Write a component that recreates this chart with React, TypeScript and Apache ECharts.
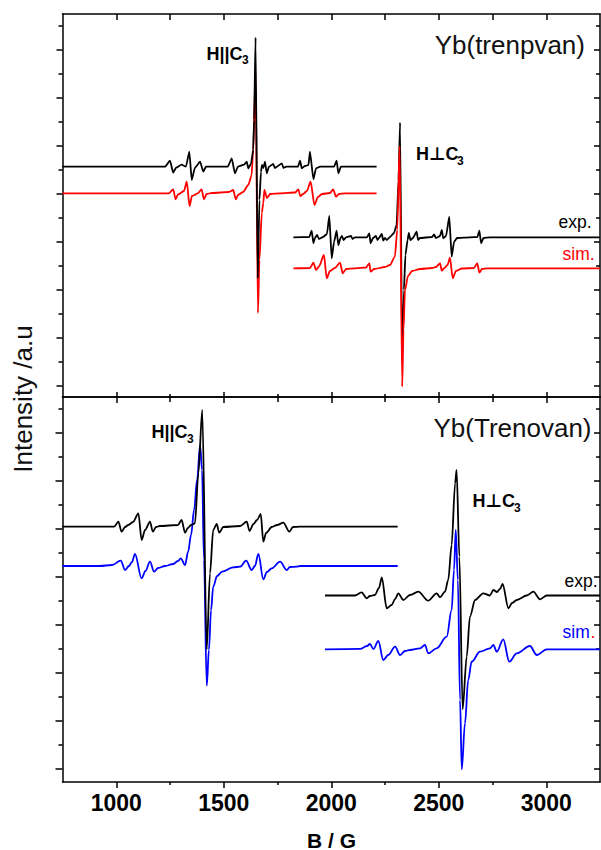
import React, { useEffect, useRef } from "react";
import * as echarts from "echarts";

// ---------- axes ----------
const FIELD_MIN = 750;
const FIELD_MAX = 3250;
const X_TICK_LABELS = [1000, 1500, 2000, 2500, 3000];
const X_MINOR = [1250, 1750, 2250, 2750];
const Y_MAJOR = [0, 48, 96, 144, 192, 240, 288, 336];
const Y_MINOR = [24, 72, 120, 168, 216, 264, 312, 360];
const TOP_RANGE = [-11, 372];
const BOT_RANGE = [-13, 372];

// ---------- vertical offsets of the stacked spectra (a.u.) ----------
const OFF_TOP_EXP_PAR = 219.3;
const OFF_TOP_SIM_PAR = 192.7;
const OFF_TOP_EXP_PERP = 148.7;
const OFF_TOP_SIM_PERP = 117.7;
const OFF_BOT_EXP_PAR = 242.3;
const OFF_BOT_SIM_PAR = 203;
const OFF_BOT_EXP_PERP = 173.5;
const OFF_BOT_SIM_PERP = 119.7;

// ---------- spectra: [B (G), intensity relative to baseline (a.u.)] ----------
// Yb(trenpvan)
const TOP_EXP_PAR: [number, number][] = [
  [750, 0], [1227, 0], [1250, 6], [1265, -6], [1278, -1], [1304, 2], [1324, 0], [1340, 15], [1351, -13.3],
  [1366, -1], [1390, 5], [1405, -5], [1417, 0], [1519, 0], [1537, 8.4], [1552, -6.6], [1566, 0], [1594, 2],
  [1607, 5], [1614, -1.6], [1627, 3], [1637, 17], [1641, 46.7], [1648, 129.2], [1658, -111.6], [1666, -33.3],
  [1673, -5.3], [1678, 1.7], [1684, -1.3], [1692, 5], [1700, -6.6], [1710, 0], [1730, 2.7], [1738, -1.3],
  [1770, 3.4], [1778, -1.3], [1790, 0], [1845, 0], [1855, 6], [1863, -1.6], [1878, 0.7], [1894, 1.7],
  [1901, 15], [1917, -12.6], [1929, -1.6], [1948, 0], [2013, 0], [2025, 6], [2033, -6.6], [2045, 0], [2211, 0],
];
const TOP_SIM_PAR: [number, number][] = [
  [750, 0], [1245, 0], [1265, 4], [1276, -6], [1287, -1.2], [1315, 2.3], [1328, 11.6], [1341, -12.7],
  [1352, -2.7], [1380, 0], [1397, 4], [1408, -6], [1420, -0.7], [1445, 0.3], [1524, 1.3], [1544, 3.3],
  [1556, -6], [1566, -1.7], [1590, 1.3], [1614, 8.3], [1629, 17.3], [1637, 43.3], [1648, 120], [1659, -119.7],
  [1666, -66.7], [1677, -19.7], [1684, -9.7], [1689, 3.3], [1701, -4.7], [1716, -0.7], [1762, 0], [1832, 0.8],
  [1847, 4], [1856, -2.7], [1869, -0.7], [1887, 2.3], [1904, 11.6], [1922, -11.7], [1938, -3.7], [1957, -0.7],
  [1994, 0.3], [2009, 4], [2022, -3.4], [2036, -0.7], [2064, 0], [2211, 0],
];
const TOP_EXP_PERP: [number, number][] = [
  [1824, 0], [1898, 0.3], [1909, 6.6], [1917, -6], [1924, -0.7], [1934, 2.3], [1943, -1.7], [1962, 0.3],
  [1980, 3.3], [1991, 21.3], [2002, -21], [2013, -4.7], [2025, 6.6], [2033, -7.7], [2043, -0.7], [2050, 1.3],
  [2057, -2.7], [2069, 0], [2092, 1.3], [2099, -1.7], [2110, 0], [2166, 0], [2177, 4], [2183, -6], [2194, -0.7],
  [2208, 1.3], [2215, -2.7], [2222, -0.7], [2235, 3.3], [2242, -3.2], [2250, -0.7], [2259, -2.7], [2273, 0.3],
  [2292, 4.3], [2304, 12.3], [2313, 57.3], [2320, 114.6], [2330, -124.4], [2338, -52.7], [2345, -17.7],
  [2355, -2.7], [2361, 4.3], [2368, -2.7], [2380, -0.7], [2397, 5.6], [2404, -2.7], [2413, -0.7], [2469, 0.3],
  [2478, 2.8], [2487, -0.7], [2506, 1.3], [2514, 7.3], [2521, -1], [2534, 1.3], [2549, 20.6], [2560, -19.4],
  [2571, -4.7], [2585, -0.7], [2645, 0], [2680, 0.3], [2689, 6.6], [2697, -6], [2708, -0.7], [2738, 0], [3250, 0],
];
const TOP_SIM_PERP: [number, number][] = [
  [1824, 0], [1901, 0.3], [1917, 5.6], [1929, -1.7], [1943, 1.8], [1966, 13.3], [1979, -10], [1994, -2.7],
  [2017, 0.3], [2041, 5.6], [2053, -5], [2069, -0.7], [2110, 0], [2162, 0.8], [2177, 5], [2183, -3.4],
  [2199, -0.7], [2250, 1.3], [2273, 3.3], [2296, 11.6], [2307, 38.3], [2318, 122.3], [2330, -118.4],
  [2336, -61.7], [2343, -21.7], [2357, -7.7], [2376, -2.7], [2413, -0.7], [2469, 0.3], [2487, 1.3], [2506, 5],
  [2514, -2.4], [2524, -0.2], [2541, 3.3], [2552, 10.6], [2565, -10], [2580, -2.7], [2608, -0.2], [2664, 0.3],
  [2679, 5], [2689, -4.4], [2701, -0.7], [2729, 0], [3250, 0],
];
// Yb(Trenovan)
const BOT_EXP_PAR: [number, number][] = [
  [750, 0], [990, 0], [1010, 5], [1025, -5], [1041, -0.3], [1056, 1.7], [1078, 4.7], [1103, 13.4], [1118, -13.3],
  [1134, -3.3], [1157, 5], [1170, -5], [1185, -0.3], [1203, 0.7], [1287, 1.7], [1304, 6.7], [1320, -6],
  [1333, -1.3], [1348, 1.7], [1366, 3.4], [1382, 53.4], [1400, 116.7], [1421, -122.6], [1436, -46.6],
  [1451, -3.3], [1467, 2.7], [1479, -6], [1498, -0.3], [1576, 0.7], [1607, 5], [1620, -4.3], [1638, 2.7],
  [1655, 6.7], [1672, 12.7], [1684, -15], [1697, -6.3], [1723, -0.3], [1748, 1.7], [1777, 4], [1805, -5],
  [1822, -0.3], [1855, 0], [2309, 0],
];
const BOT_SIM_PAR: [number, number][] = [
  [750, 0], [924, 0], [980, 1], [1021, 5.3], [1041, -4], [1059, 0], [1073, 4], [1087, 12], [1118, -12.3],
  [1136, -5], [1157, 4.3], [1176, -5.7], [1195, -2], [1227, 0], [1265, 2], [1287, 5], [1300, 7.7], [1320, 1],
  [1334, 14], [1348, 31], [1362, 56], [1376, 86], [1390, 121], [1399, 96], [1408, 6], [1421, -119.7],
  [1431, -84], [1441, -44], [1451, -20.7], [1469, -10], [1492, -5.7], [1544, -1.3], [1576, -0.7], [1604, 5.3],
  [1630, -4], [1645, 0], [1661, 12], [1684, -13.3], [1701, -6], [1723, -2.3], [1762, 4.3], [1793, -4],
  [1808, -1], [1839, -0.7], [1855, 0], [2309, 0],
];
const BOT_EXP_PERP: [number, number][] = [
  [1971, 0], [2110, 0], [2141, 3.2], [2165, -2.8], [2180, -0.5], [2203, 0.5], [2222, 7.5], [2235, 18.2],
  [2258, -12.8], [2281, -9.5], [2297, -3.5], [2312, 2.2], [2335, -4.5], [2366, 0.5], [2405, 3.8], [2451, -5.2],
  [2490, 2.2], [2506, -1.8], [2529, 3.8], [2544, 15.5], [2560, 50.5], [2576, 112.2], [2583, 125.5],
  [2596, 38.8], [2611, -113.8], [2630, -61.2], [2645, -21.2], [2669, -4.5], [2707, 2.2], [2738, 0],
  [2754, 5.5], [2771, 3.5], [2785, 6.5], [2797, 11.5], [2824, -12.8], [2841, -7.5], [2863, -4.5], [2909, 0],
  [2940, 3.8], [2971, -3.8], [3002, 0], [3250, 0],
];
const BOT_SIM_PERP: [number, number][] = [
  [1971, 0], [2134, 0.5], [2166, 3.3], [2180, 5.3], [2196, 0.3], [2219, 8.3], [2242, -10.7], [2265, -5.7],
  [2297, 2.6], [2320, -5.7], [2343, -1.7], [2366, -0.7], [2413, 1], [2436, 4.3], [2451, -4], [2490, 1],
  [2537, 12.6], [2560, 39.3], [2571, 79.3], [2579, 119.3], [2589, 69.3], [2599, -50.7], [2607, -120],
  [2622, -74], [2637, -30.7], [2653, -12.4], [2692, -2.4], [2738, 1], [2754, 4.3], [2770, -2.4], [2800, 10],
  [2828, -12.4], [2863, -4], [2924, 3.3], [2956, -5.7], [3002, 0], [3250, 0],
];

const FONT = "'Liberation Sans', Arial, 'DejaVu Sans', sans-serif";
const BLACK = "#000000";
const RED = "#ff0000";
const BLUE = "#0000ff";

function shifted(data: [number, number][], off: number) {
  return data.map(([b, v]) => [b, Math.round((v + off) * 100) / 100]);
}

function line(name: string, data: [number, number][], off: number, color: string, idx: number, smooth: number) {
  return {
    type: "line",
    name,
    xAxisIndex: idx,
    yAxisIndex: idx,
    data: shifted(data, off),
    symbol: "none",
    showSymbol: false,
    silent: true,
    smooth,
    smoothMonotone: "x",
    lineStyle: { color, width: 1.8 },
    itemStyle: { color },
  };
}

const AXIS_LINE = { show: true, onZero: false, lineStyle: { color: BLACK, width: 1.5 } };
const NO_LINE = { show: false, onZero: false };

function xAx(grid: number, position: string, ticks: number[], inside: boolean, length: number, showLine: boolean, labels: boolean) {
  return {
    type: "value",
    gridIndex: grid,
    position,
    min: FIELD_MIN,
    max: FIELD_MAX,
    axisLine: showLine ? AXIS_LINE : NO_LINE,
    axisTick: { show: true, inside, length, customValues: ticks, lineStyle: { color: BLACK, width: 1.5 } },
    axisLabel: labels
      ? {
          show: true,
          customValues: X_TICK_LABELS,
          formatter: (v: number) => String(v),
          fontSize: 23,
          fontWeight: "bold",
          fontFamily: FONT,
          color: BLACK,
          margin: 9,
        }
      : { show: false },
    splitLine: { show: false },
  };
}

function yAx(grid: number, position: string, range: number[], ticks: number[], inside: boolean, length: number, showLine: boolean) {
  return {
    type: "value",
    gridIndex: grid,
    position,
    min: range[0],
    max: range[1],
    axisLine: showLine ? AXIS_LINE : NO_LINE,
    axisTick: { show: true, inside, length, customValues: ticks, lineStyle: { color: BLACK, width: 1.5 } },
    axisLabel: { show: false },
    splitLine: { show: false },
  };
}

function txt(text: string, x: number, y: number, size: number, weight: string, color: string, align: string, rotation = 0) {
  return {
    type: "text",
    x,
    y,
    rotation,
    silent: true,
    style: {
      text,
      x: 0,
      y: 0,
      fill: color,
      fontSize: size,
      fontWeight: weight,
      fontFamily: FONT,
      align,
      textAlign: align,
      verticalAlign: "middle",
      textVerticalAlign: "middle",
    },
  };
}

export default function App() {
  const ref = useRef<HTMLDivElement>(null);
  useEffect(() => {
    if (!ref.current) return;
    const chart = echarts.init(ref.current, undefined, { renderer: "svg" });
    const option = {
      animation: false,
      backgroundColor: "#ffffff",
      grid: [
        { left: 62.5, top: 14, width: 537.5, height: 383, containLabel: false },
        { left: 62.5, top: 397, width: 537.5, height: 385, containLabel: false },
      ],
      xAxis: [
        xAx(0, "bottom", X_TICK_LABELS, true, 5, true, false),
        xAx(0, "top", X_TICK_LABELS, true, 6, true, false),
        xAx(0, "bottom", X_MINOR, true, 3, false, false),
        xAx(0, "top", X_MINOR, true, 6, false, false),
        xAx(1, "bottom", X_TICK_LABELS, false, 6, true, true),
        xAx(1, "top", X_TICK_LABELS, true, 6, true, false),
        xAx(1, "bottom", X_MINOR, false, 3, false, false),
        xAx(1, "top", X_MINOR, true, 5, false, false),
      ],
      yAxis: [
        yAx(0, "left", TOP_RANGE, Y_MAJOR, false, 6, true),
        yAx(0, "left", TOP_RANGE, Y_MINOR, false, 4, false),
        yAx(0, "right", TOP_RANGE, Y_MAJOR, true, 6, true),
        yAx(0, "right", TOP_RANGE, Y_MINOR, true, 4, false),
        yAx(1, "left", BOT_RANGE, Y_MAJOR, false, 7, true),
        yAx(1, "left", BOT_RANGE, Y_MINOR, false, 4, false),
        yAx(1, "right", BOT_RANGE, Y_MAJOR, true, 6, true),
        yAx(1, "right", BOT_RANGE, Y_MINOR, true, 4, false),
      ],
      series: [
        line("sim. H||C3 (trenpvan)", TOP_SIM_PAR, OFF_TOP_SIM_PAR, RED, 0, 0.25),
        line("exp. H||C3 (trenpvan)", TOP_EXP_PAR, OFF_TOP_EXP_PAR, BLACK, 0, 0.15),
        line("exp. H⊥C3 (trenpvan)", TOP_EXP_PERP, OFF_TOP_EXP_PERP, BLACK, 0, 0.15),
        line("sim. H⊥C3 (trenpvan)", TOP_SIM_PERP, OFF_TOP_SIM_PERP, RED, 0, 0.25),
        line("sim. H||C3 (Trenovan)", BOT_SIM_PAR, OFF_BOT_SIM_PAR, BLUE, 4, 0.35),
        line("exp. H||C3 (Trenovan)", BOT_EXP_PAR, OFF_BOT_EXP_PAR, BLACK, 4, 0.3),
        line("exp. H⊥C3 (Trenovan)", BOT_EXP_PERP, OFF_BOT_EXP_PERP, BLACK, 4, 0.3),
        line("sim. H⊥C3 (Trenovan)", BOT_SIM_PERP, OFF_BOT_SIM_PERP, BLUE, 4, 0.35),
      ],
      graphic: [
        txt("Yb(trenpvan)", 585, 44.5, 26, "normal", "#111111", "right"),
        txt("Yb(Trenovan)", 591.5, 427.5, 26, "normal", "#111111", "right"),
        txt("H||C", 206.5, 53.5, 18, "bold", BLACK, "left"),
        txt("3", 242, 59.5, 12, "bold", BLACK, "left"),
        txt("H⊥C", 416, 154, 18, "bold", BLACK, "left"),
        txt("3", 457, 160.5, 12, "bold", BLACK, "left"),
        txt("H||C", 151.5, 431.5, 18, "bold", BLACK, "left"),
        txt("3", 187, 438.5, 12, "bold", BLACK, "left"),
        txt("H⊥C", 472.5, 501, 18, "bold", BLACK, "left"),
        txt("3", 514, 507.5, 12, "bold", BLACK, "left"),
        txt("exp.", 558.5, 222.2, 17.5, "normal", BLACK, "left"),
        txt("sim.", 562.5, 253.9, 17.5, "normal", RED, "left"),
        txt("exp.", 564.5, 580.6, 17.5, "normal", BLACK, "left"),
        txt("sim", 562.5, 632.2, 17.5, "normal", BLUE, "left"),
        txt(".", 590.5, 632.2, 17.5, "normal", RED, "left"),
        txt("Intensity /a.u", 22.5, 399, 26, "normal", "#111111", "center", Math.PI / 2),
        txt("B / G", 331.5, 840, 21, "bold", BLACK, "center"),
      ],
    };
    chart.setOption(option as any);
    return () => chart.dispose();
  }, []);
  return (
    <div
      ref={ref}
      style={{ position: "absolute", left: 0, top: 0, width: 601, height: 850, background: "#fff" }}
    />
  );
}
